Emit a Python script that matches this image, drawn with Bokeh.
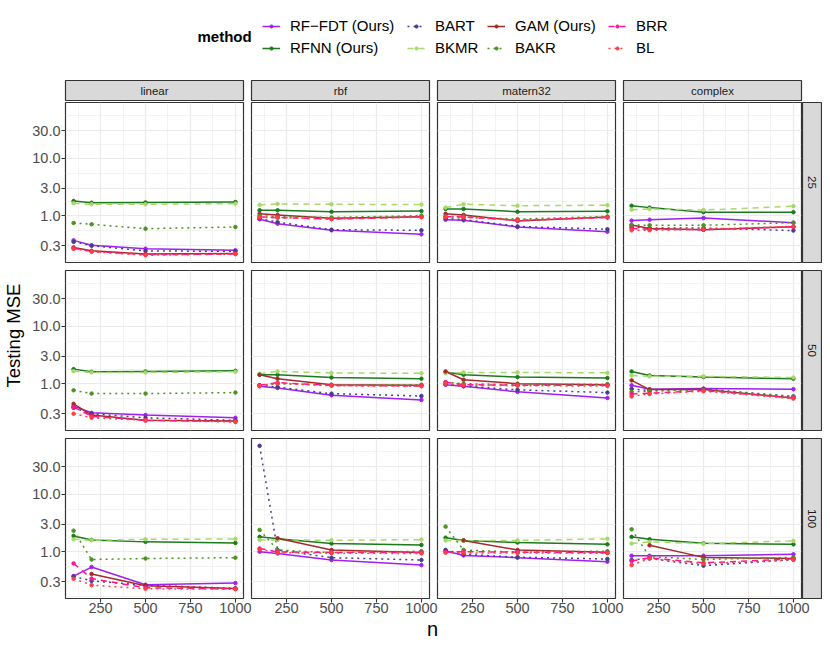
import math
import numpy as np
from bokeh.plotting import figure
from bokeh.models import (Range1d, FixedTicker, Grid, LinearAxis, LogAxis, Label, Legend,
                          LegendItem, ColumnDataSource, PrintfTickFormatter, Spacer)
from bokeh.layouts import row, column
from bokeh.embed import file_html
from bokeh.resources import INLINE

# ---------------- data ----------------
n_values = [100, 200, 500, 1000]
kernels = ["linear", "rbf", "matern32", "complex"]
p_values = ["25", "50", "100"]
methods = ["RF\u2212FDT (Ours)", "RFNN (Ours)", "BART", "BKMR", "GAM (Ours)", "BAKR", "BRR", "BL"]
x_ticks = [250, 500, 750, 1000]
y_ticks = [0.3, 1.0, 3.0, 10.0, 30.0]
nan = float("nan")

# each array: rows p = 25, 50, 100 ; columns linear, rbf, matern32, complex ; values at n = 100, 200, 500, 1000
mse_rf_fdt = [
    [[0.372, 0.305, 0.267, 0.250], [0.866, 0.725, 0.556, 0.474], [0.850, 0.830, 0.635, 0.526], [0.820, 0.850, 0.910, 0.755]],
    [[0.406, 0.311, 0.284, 0.255], [0.900, 0.840, 0.630, 0.520], [0.960, 0.900, 0.720, 0.565], [0.935, 0.800, 0.820, 0.800]],
    [[0.376, 0.540, 0.266, 0.284], [1.000, 0.930, 0.716, 0.585], [1.040, 0.860, 0.786, 0.670], [0.850, 0.850, 0.850, 0.900]],
]
mse_rfnn = [
    [[1.80, 1.68, 1.70, 1.73], [1.24, 1.24, 1.17, 1.20], [1.31, 1.31, 1.17, 1.19], [1.49, 1.38, 1.15, 1.15]],
    [[1.79, 1.61, 1.63, 1.67], [1.43, 1.43, 1.28, 1.22], [1.60, 1.43, 1.30, 1.25], [1.63, 1.39, 1.30, 1.22]],
    [[1.88, 1.60, 1.48, 1.42], [1.81, 1.67, 1.38, 1.31], [1.75, 1.57, 1.44, 1.34], [1.81, 1.64, 1.40, 1.34]],
]
mse_bart = [
    [[0.350, 0.300, 0.243, 0.240], [0.890, 0.770, 0.570, 0.556], [0.890, 0.860, 0.650, 0.580], [0.630, 0.610, 0.610, 0.550]],
    [[0.380, 0.300, 0.255, 0.230], [0.940, 0.870, 0.670, 0.610], [0.980, 0.910, 0.780, 0.700], [0.810, 0.760, 0.810, 0.600]],
    [[0.370, 0.310, 0.260, 0.230], [69.5, 1.070, 0.786, 0.716], [1.070, 0.900, 0.800, 0.745], [0.716, 0.760, 0.570, 0.730]],
]
mse_bkmr = [
    [[1.64, 1.58, 1.58, 1.62], [1.54, 1.60, 1.58, 1.56], [1.38, 1.58, 1.49, 1.52], [1.27, 1.31, 1.25, 1.46]],
    [[1.65, 1.57, 1.57, 1.61], [1.49, 1.63, 1.54, 1.51], [1.51, 1.57, 1.57, 1.54], [1.39, 1.34, 1.34, 1.28]],
    [[1.64, 1.58, 1.64, 1.66], [1.60, 1.60, 1.58, 1.62], [1.57, 1.55, 1.57, 1.67], [1.38, 1.48, 1.38, 1.54]],
]
mse_gam = [
    [[0.280, 0.245, 0.215, 0.220], [1.080, 1.030, 0.900, 0.960], [1.080, 1.030, 0.810, 0.950], [0.690, 0.600, 0.570, 0.640]],
    [[0.446, 0.284, 0.230, 0.224], [1.430, 1.220, 0.960, 0.940], [1.630, 1.170, 1.000, 0.960], [1.140, 0.790, 0.790, 0.565]],
    [[nan, 0.410, 0.255, 0.229], [nan, 1.710, 1.070, 0.970], [nan, 1.570, 1.070, 0.980], [nan, 1.290, 0.795, 0.760]],
]
mse_bakr = [
    [[0.746, 0.708, 0.594, 0.635], [1.000, 0.960, 0.930, 1.000], [0.970, 0.960, 0.870, 0.970], [0.690, 0.680, 0.680, 0.755]],
    [[0.766, 0.672, 0.672, 0.700], [0.935, 1.000, 0.940, 0.960], [1.060, 1.000, 0.960, 0.980], [0.720, 0.740, 0.780, 0.600]],
    [[2.320, 0.730, 0.760, 0.786], [2.390, 1.070, 0.960, 1.020], [2.730, 1.070, 0.980, 1.020], [2.450, 0.820, 0.730, 0.795]],
]
mse_brr = [
    [[0.270, 0.240, 0.210, 0.215], [0.950, 0.930, 0.875, 0.950], [0.960, 0.950, 0.830, 0.930], [0.600, 0.580, 0.570, 0.640]],
    [[0.390, 0.270, 0.230, 0.220], [0.935, 1.040, 0.935, 0.910], [1.060, 0.960, 0.940, 0.940], [0.660, 0.680, 0.760, 0.565]],
    [[0.625, 0.340, 0.235, 0.225], [1.140, 0.990, 0.970, 0.970], [0.980, 1.000, 0.980, 0.960], [0.690, 0.780, 0.640, 0.745]],
]
mse_bl = [
    [[0.265, 0.235, 0.205, 0.215], [0.930, 0.920, 0.870, 0.940], [0.950, 0.940, 0.830, 0.930], [0.556, 0.556, 0.580, 0.650]],
    [[0.300, 0.255, 0.230, 0.215], [0.910, 1.020, 0.920, 0.900], [1.000, 0.940, 0.920, 0.910], [0.600, 0.660, 0.740, 0.550]],
    [[0.338, 0.262, 0.226, 0.222], [1.100, 0.960, 0.940, 0.930], [0.960, 0.950, 0.950, 0.940], [0.585, 0.760, 0.620, 0.720]],
]
series = [mse_rf_fdt, mse_rfnn, mse_bart, mse_bkmr, mse_gam, mse_bakr, mse_brr, mse_bl]

# ---------------- style ----------------
colors = ["#A020F0", "#1B7A1B", "#483D8B", "#A6D96A", "#A52A2A", "#4D9221", "#FF1493", "#FF4040"]
dashes = ["solid", "solid", "2 4", "6 5", "solid", "2 4", "6 5", "2 4"]
FONT = "Liberation Sans"
FRAME_W, FRAME_H = 178, 160
STRIP_H = 22
RSTRIP_W = 21
YLAB_W = 26
LEFT_AXIS = 39
GAP_L, GAP_R = 4, 16
OVERLAP = GAP_L + GAP_R - 8
ROW_GAP = 4
BOTTOM_AXIS = 21
LEGEND_H = 79
XLAB_H = 26
TOTAL_W = 822
BORDER = "#333333"

# shared scales (ggplot-like 5% expansion)
allv = np.array(series, dtype=float).ravel()
lo, hi = np.log10(np.nanmin(allv)), np.log10(np.nanmax(allv))
pad = 0.05 * (hi - lo)
y_range = Range1d(10 ** (lo - pad), 10 ** (hi + pad))
xpad = 0.05 * (max(n_values) - min(n_values))
x_range = Range1d(min(n_values) - xpad, max(n_values) + xpad)

def minor_of(ticks):
    t = list(ticks)
    d = t[1] - t[0]
    ext = [t[0] - d] + t + [t[-1] + d]
    return [(a + b) / 2 for a, b in zip(ext[:-1], ext[1:])]

x_minor = minor_of(x_ticks)
y_minor = [10 ** v for v in minor_of([math.log10(t) for t in y_ticks])]


def style_axis(ax):
    ax.axis_line_color = None
    ax.major_tick_line_color = BORDER
    ax.major_tick_line_width = 1.1
    ax.major_tick_in = 0
    ax.major_tick_out = 4
    ax.minor_tick_line_color = None
    ax.major_label_text_color = "#4D4D4D"
    ax.major_label_text_font = FONT
    ax.major_label_text_font_size = "14.5px"
    ax.major_label_standoff = 1


def blank_fig(width, height, **kw):
    f = figure(width=width, height=height, x_range=Range1d(0, 1), y_range=Range1d(0, 1),
               x_axis_location=None, y_axis_location=None, toolbar_location=None,
               output_backend="svg", **kw)
    f.center = []
    return f


def col_margin(c):
    return (0, 0, 0, 0) if c == 0 else (0, 0, 0, -OVERLAP)


def panel(r, c):
    left = LEFT_AXIS if c == 0 else GAP_L
    right = GAP_R
    top = 1 if r == 0 else ROW_GAP
    bottom = BOTTOM_AXIS if r == 2 else ROW_GAP
    p = figure(width=left + FRAME_W + right, height=top + FRAME_H + bottom,
               x_range=x_range, y_range=y_range, y_axis_type="log",
               x_axis_location=None, y_axis_location=None,
               toolbar_location=None, output_backend="svg",
               min_border_left=left, min_border_right=right,
               min_border_top=top, min_border_bottom=bottom,
               margin=col_margin(c))
    p.center = []
    p.outline_line_color = BORDER
    p.outline_line_width = 1.2
    p.background_fill_color = "white"
    if c > 0:
        p.border_fill_alpha = 0
    for dim, tk, mn in ((0, x_ticks, x_minor), (1, y_ticks, y_minor)):
        g = Grid(dimension=dim, ticker=FixedTicker(ticks=tk, minor_ticks=mn),
                 grid_line_color="#EBEBEB", grid_line_width=1.2,
                 minor_grid_line_color="#EBEBEB", minor_grid_line_width=0.6)
        p.add_layout(g, "center")
    if c == 0:
        ya = LogAxis(ticker=FixedTicker(ticks=y_ticks), formatter=PrintfTickFormatter(format="%.1f"))
        style_axis(ya)
        p.add_layout(ya, "left")
    if r == 2:
        xa = LinearAxis(ticker=FixedTicker(ticks=x_ticks))
        style_axis(xa)
        xa.major_label_standoff = 0
        p.add_layout(xa, "below")
    srcs = [ColumnDataSource(dict(x=n_values, y=s[r][c])) for s in series]
    for k, src in enumerate(srcs):
        p.line("x", "y", source=src, line_color=colors[k], line_width=1.5, line_dash=dashes[k])
    for k, src in enumerate(srcs):
        p.scatter("x", "y", source=src, size=3.5, color=colors[k])
    return p


def top_strip(c):
    left = LEFT_AXIS if c == 0 else GAP_L
    f = blank_fig(left + FRAME_W + GAP_R, STRIP_H, min_border_left=left, min_border_right=GAP_R,
                  min_border_top=1, min_border_bottom=0, margin=col_margin(c))
    f.background_fill_color = "#D9D9D9"
    f.outline_line_color = BORDER
    f.outline_line_width = 1.2
    if c > 0:
        f.border_fill_alpha = 0
    f.add_layout(Label(x=0.5, y=0.5, text=kernels[c], text_align="center", text_baseline="middle",
                       text_font=FONT, text_font_size="11.5px", text_color="#1A1A1A"))
    return f


def right_strip(r):
    top = 1 if r == 0 else ROW_GAP
    bottom = BOTTOM_AXIS if r == 2 else ROW_GAP
    f = blank_fig(RSTRIP_W, top + FRAME_H + bottom, min_border_left=1, min_border_right=1,
                  min_border_top=top, min_border_bottom=bottom, margin=(0, 0, 0, -GAP_R))
    f.background_fill_color = "#D9D9D9"
    f.outline_line_color = BORDER
    f.outline_line_width = 1.2
    f.border_fill_alpha = 0
    f.add_layout(Label(x=0.5, y=0.5, text=p_values[r], angle=-math.pi / 2, text_align="center",
                       text_baseline="middle", text_font=FONT, text_font_size="11.5px",
                       text_color="#1A1A1A"))
    return f


# ---------------- legend ----------------
leg_fig = blank_fig(TOTAL_W, LEGEND_H, min_border=0)
leg_fig.outline_line_color = None
leg_fig.add_layout(Label(x=197, y=43, x_units="screen", y_units="screen", text="method",
                         text_font=FONT, text_font_size="15px", text_font_style="bold",
                         text_baseline="middle", text_color="black"))
items = []
for k, m in enumerate(methods):
    lr = leg_fig.line(x=[nan], y=[nan], line_color=colors[k], line_width=1.5, line_dash=dashes[k])
    sr = leg_fig.scatter(x=[nan], y=[nan], size=3.5, color=colors[k])
    items.append(LegendItem(label=m, renderers=[lr, sr]))
leg_x = [262, 407, 487, 608]
for j in range(4):
    lg = Legend(items=items[2 * j:2 * j + 2], location=(leg_x[j], 23), orientation="vertical",
                glyph_width=18, glyph_height=8, label_height=17, label_standoff=10, spacing=5,
                padding=0, margin=0, border_line_color=None, background_fill_alpha=0,
                label_text_font=FONT, label_text_font_size="15px", label_text_color="black")
    leg_fig.add_layout(lg, "center")

# ---------------- grid ----------------
strip_row = row([top_strip(c) for c in range(4)] + [Spacer(width=RSTRIP_W, height=STRIP_H, margin=(0, 0, 0, -GAP_R))])
panel_rows = [row([panel(r, c) for c in range(4)] + [right_strip(r)]) for r in range(3)]
grid_col = column([strip_row] + panel_rows)
grid_h = STRIP_H + (1 + FRAME_H + ROW_GAP) + (ROW_GAP + FRAME_H + ROW_GAP) + (ROW_GAP + FRAME_H + BOTTOM_AXIS)

ylab_fig = blank_fig(YLAB_W, grid_h, min_border=0)
ylab_fig.outline_line_color = None
ylab_fig.add_layout(Label(x=13, y=grid_h - 256, x_units="screen", y_units="screen", text="Testing MSE",
                          angle=math.pi / 2, text_align="center", text_baseline="middle",
                          text_font=FONT, text_font_size="18.5px", text_color="black"))

xlab_fig = blank_fig(TOTAL_W, XLAB_H, min_border=0)
xlab_fig.outline_line_color = None
xlab_fig.add_layout(Label(x=432, y=5.5, x_units="screen", y_units="screen", text="n",
                          text_align="center", text_baseline="bottom",
                          text_font=FONT, text_font_size="20px", text_color="black"))

layout = column(leg_fig, row(ylab_fig, grid_col), xlab_fig)
open("out.html", "w").write(file_html(layout, INLINE))
